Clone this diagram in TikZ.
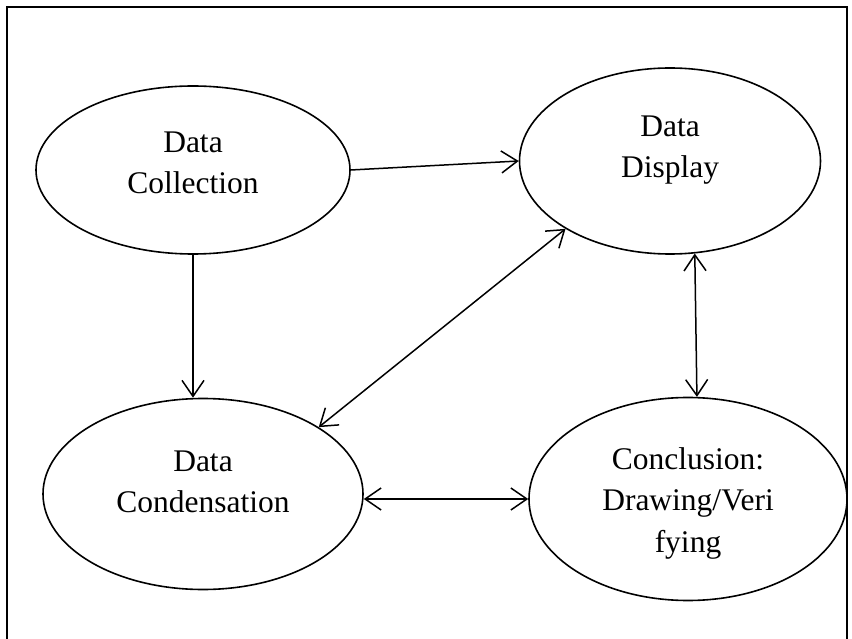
\documentclass[tikz,border=0pt]{standalone}
\usepackage{fontspec}
\setmainfont{Liberation Serif}
\usetikzlibrary{arrows.meta,shapes.geometric}

\begin{document}
\begin{tikzpicture}[x=1pt,y=-1pt,
  >={Straight Barb[length=16pt,width=22pt]},
  bubble/.style={draw,ellipse,line width=1.6pt,inner sep=0pt},
  words/.style={align=center,font=\fontsize{31.5}{41.5}\selectfont},
  link/.style={line width=1.5pt}]
\useasboundingbox (0,0) rectangle (852,639);
\draw[line width=2.3pt] (7,639) |- (847,7) -- (847,639);
\node[bubble,minimum width=314pt,minimum height=168pt] (collect) at (193,170) {};
\node[bubble,minimum width=301pt,minimum height=186pt] (display) at (670,161) {};
\node[bubble,minimum width=320pt,minimum height=191pt] (conden) at (203,494) {};
\node[bubble,minimum width=318pt,minimum height=203pt] (conclu) at (688,499) {};
\node[words] (collecttext) at (193,163) {Data\\Collection};
\node[words] (displaytext) at (670,150) {Data\\Display};
\node[words] (condentext) at (203,482) {Data\\Condensation};
\node[words] (conclutext) at (688,503) {Conclusion:\\Drawing/Veri\\fying};
\draw[link,->] (collect.east) -- (display.west);
\draw[link,->] (collect.south) -- (collect.south |- conden.north);
\draw[link,<->] (display.213) -- (conden.30);
\draw[link,<->] (display.-75) -- (conclu.85);
\draw[link,<->] (conclu.west -| conden.east) -- (conclu.west);
\end{tikzpicture}
\end{document}
